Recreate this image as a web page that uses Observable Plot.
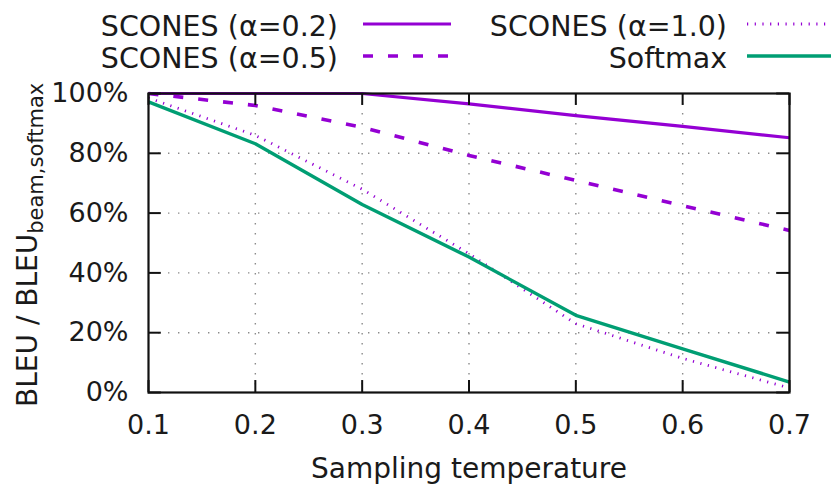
<!DOCTYPE html>
<html><head><meta charset="utf-8">
<script src="https://cdn.jsdelivr.net/npm/d3@7"></script>
<script src="https://cdn.jsdelivr.net/npm/@observablehq/plot@0.6"></script>
<style>
body{margin:0;background:#fff;font-family:"DejaVu Sans",sans-serif;}
#wrap{position:relative;width:831px;height:492px;overflow:hidden;}
.leg{position:absolute;font-size:28.5px;color:#1a1a1a;white-space:nowrap;line-height:32px;}
.samp{position:absolute;}
</style></head><body><div id="wrap"></div>
<script>
// ---- data ----
const temps = [0.1, 0.2, 0.3, 0.4, 0.5, 0.6, 0.7];
const yTicks = [0, 20, 40, 60, 80, 100];
const seriesNames = ["SCONES (α=0.2)", "SCONES (α=0.5)", "SCONES (α=1.0)", "Softmax"];
const scones02 = [100, 100, 100, 96.5, 92.6, 89.0, 85.2];
const scones05 = [100, 96.0, 88.7, 79.3, 70.9, 62.5, 54.2];
const scones10 = [98.5, 86.0, 68.0, 46.4, 23.0, 11.4, 1.5];
const softmax  = [97.2, 83.2, 62.9, 45.3, 25.8, 14.6, 3.5];
const seriesValues = [scones02, scones05, scones10, softmax];

// ---- styles ----
const purple = "#9400d3", green = "#009e73";
const styles = [
  {stroke: purple, strokeWidth: 3.2, dash: null},
  {stroke: purple, strokeWidth: 3.6, dash: "10,15"},
  {stroke: purple, strokeWidth: 2.8, dash: "1.2,6.5"},
  {stroke: green, strokeWidth: 3.4, dash: null}
];

const rows = [];
seriesNames.forEach((name, i) => temps.forEach((t, j) => rows.push({series: name, t, v: seriesValues[i][j]})));

const gridStyle = {stroke: "#8a8a8a", strokeOpacity: 1, strokeWidth: 1.4, strokeDasharray: "1.4,8.6"};
const tickStyle = {stroke: "#111", strokeWidth: 2};

const lineMarks = seriesNames.map((name, i) => Plot.lineY(rows.filter(r => r.series === name), {
  x: "t", y: "v", stroke: styles[i].stroke, strokeWidth: styles[i].strokeWidth,
  strokeDasharray: styles[i].dash, strokeLinecap: "butt", strokeLinejoin: "round"
}));

const plot = Plot.plot({
  width: 831, height: 492,
  marginLeft: 148, marginRight: 42, marginTop: 93, marginBottom: 100,
  style: {fontFamily: "DejaVu Sans, sans-serif", fontSize: "27px", color: "#1a1a1a", overflow: "visible", background: "transparent"},
  x: {domain: [0.1, 0.7]},
  y: {domain: [0, 100]},
  marks: [
    Plot.gridX(temps.slice(1, -1), gridStyle),
    Plot.gridY(yTicks.slice(1, -1), gridStyle),
    ...lineMarks,
    Plot.ruleX(temps, {x: d => d, y1: 0, y2: 4, ...tickStyle}),
    Plot.ruleX(temps, {x: d => d, y1: 96, y2: 100, ...tickStyle}),
    Plot.ruleY(yTicks, {y: d => d, x1: 0.1, x2: 0.112, ...tickStyle}),
    Plot.ruleY(yTicks, {y: d => d, x1: 0.688, x2: 0.7, ...tickStyle}),
    Plot.frame({stroke: "#111", strokeWidth: 2.2}),
    Plot.axisX({ticks: temps, tickSize: 0, tickPadding: 22, tickFormat: d => d.toFixed(1), label: null, fontSize: 27}),
    Plot.axisY({ticks: yTicks, tickSize: 0, tickPadding: 20, tickFormat: d => d + "%", label: null, fontSize: 27}),
    Plot.text(["Sampling temperature"], {frameAnchor: "bottom", dy: 85, fontSize: 28, fill: "#1a1a1a"})
  ]
});

const wrap = document.getElementById("wrap");
wrap.appendChild(plot);

// y-axis label with subscript
const svg = d3.select(plot);
const yl = svg.append("text")
  .attr("transform", "translate(37,407) rotate(-90)")
  .attr("text-anchor", "start")
  .attr("font-size", 28).attr("fill", "#1a1a1a").attr("font-family", "DejaVu Sans, sans-serif");
yl.append("tspan").text("BLEU / BLEU");
yl.append("tspan").attr("font-size", 21).attr("dy", 6).text("beam,softmax");

// legend (HTML overlay)
const legPos = [
  {textRight: 338, top: 11, sx: 363, sy: 24},
  {textRight: 338, top: 43, sx: 363, sy: 56},
  {textRight: 727, top: 11, sx: 747, sy: 24},
  {textRight: 727, top: 43, sx: 747, sy: 56}
];
seriesNames.forEach((name, i) => {
  const p = legPos[i];
  const d = document.createElement("div");
  d.className = "leg";
  d.style.right = (831 - p.textRight) + "px";
  d.style.top = p.top + "px";
  d.textContent = name;
  wrap.appendChild(d);
  const s = d3.create("svg").attr("class", "samp").attr("width", 90).attr("height", 10)
    .style("left", p.sx + "px").style("top", (p.sy - 5) + "px");
  s.append("line").attr("x1", 0).attr("x2", 88).attr("y1", 5).attr("y2", 5)
    .attr("stroke", styles[i].stroke).attr("stroke-width", styles[i].strokeWidth)
    .attr("stroke-dasharray", styles[i].dash);
  wrap.appendChild(s.node());
});
</script></body></html>
